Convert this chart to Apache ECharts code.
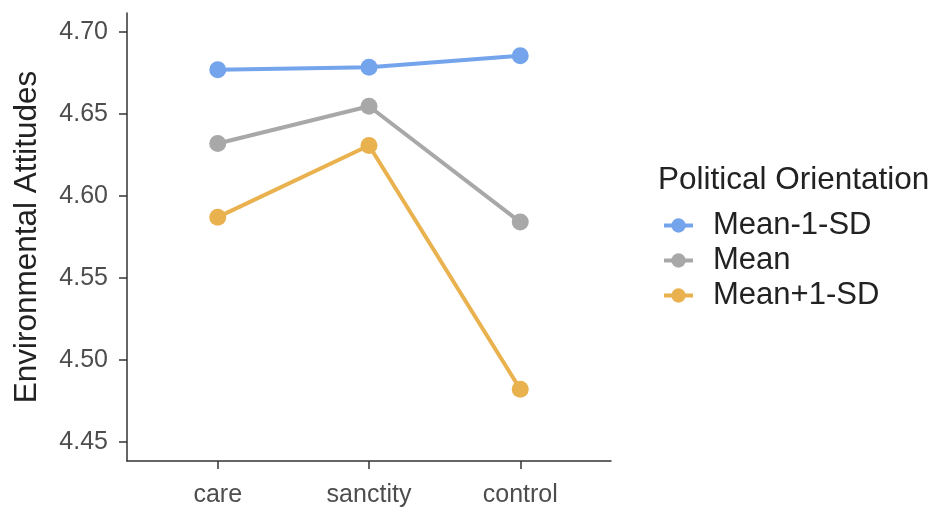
<!DOCTYPE html>
<html>
<head>
<meta charset="utf-8">
<style>
html,body{margin:0;padding:0;background:#fff;}
#chart{width:939px;height:508px;}
</style>
<script src="https://cdn.jsdelivr.net/npm/echarts@6/dist/echarts.min.js"></script>
</head>
<body>
<div id="chart"></div>
<script>
var categories = ['care', 'sanctity', 'control'];
var seriesNames = ['Mean-1-SD', 'Mean', 'Mean+1-SD'];
var lowValues = [4.677, 4.6785, 4.6855];
var meanValues = [4.632, 4.6547, 4.584];
var highValues = [4.587, 4.6307, 4.482];
var yTicks = [4.45, 4.50, 4.55, 4.60, 4.65, 4.70];
var colors = ['#74A4EC', '#A8A8A8', '#E9B24F'];

var font = 'Liberation Sans, Arial, sans-serif';
var allValues = [lowValues, meanValues, highValues];
var catIdx = categories.map(function (c, i) { return i; });

var series = seriesNames.map(function (name, s) {
  return {
    name: name,
    type: 'line',
    data: allValues[s].map(function (v, i) { return [i, v]; }),
    symbol: 'circle',
    symbolSize: 17,
    lineStyle: { width: 4, color: colors[s] },
    itemStyle: { color: colors[s] },
    emphasis: { disabled: true }
  };
});

var chart = echarts.init(document.getElementById('chart'), null, { renderer: 'canvas' });
chart.setOption({
  animation: false,
  backgroundColor: '#fff',
  title: {
    text: 'Political Orientation',
    left: 658,
    top: 164,
    padding: 0,
    textStyle: { fontFamily: font, fontSize: 31.5, fontWeight: 'normal', color: '#222' }
  },
  legend: {
    data: seriesNames,
    orient: 'vertical',
    left: 662,
    top: 210,
    padding: 0,
    itemWidth: 29,
    itemHeight: 18,
    itemGap: 4,
    lineStyle: { width: 4 },
    textStyle: { fontFamily: font, fontSize: 31, color: '#222', padding: [0, 0, 0, 15] }
  },
  grid: { left: 127, right: 328, top: 13, bottom: 46 },
  xAxis: {
    type: 'value',
    min: -0.6,
    max: 2.6,
    splitLine: { show: false },
    axisLine: { onZero: false, lineStyle: { color: '#333', width: 1.5 } },
    axisTick: { show: true, length: 8, customValues: catIdx, lineStyle: { color: '#333', width: 1.5 } },
    axisLabel: {
      customValues: catIdx,
      margin: 22,
      fontFamily: font, fontSize: 25, color: '#4d4d4d',
      formatter: function (v) { return categories[Math.round(v)]; }
    }
  },
  yAxis: {
    type: 'value',
    min: 4.4382,
    max: 4.7116,
    name: 'Environmental Attitudes',
    nameLocation: 'middle',
    nameGap: 84,
    nameTextStyle: { fontFamily: font, fontSize: 31.5, color: '#222' },
    splitLine: { show: false },
    axisLine: { show: true, onZero: false, lineStyle: { color: '#333', width: 1.5 } },
    axisTick: { show: true, length: 8, customValues: yTicks, lineStyle: { color: '#333', width: 1.5 } },
    axisLabel: {
      customValues: yTicks,
      margin: 19,
      fontFamily: font, fontSize: 25, color: '#4d4d4d',
      formatter: function (v) { return v.toFixed(2); }
    }
  },
  series: series
});
</script>
</body>
</html>
